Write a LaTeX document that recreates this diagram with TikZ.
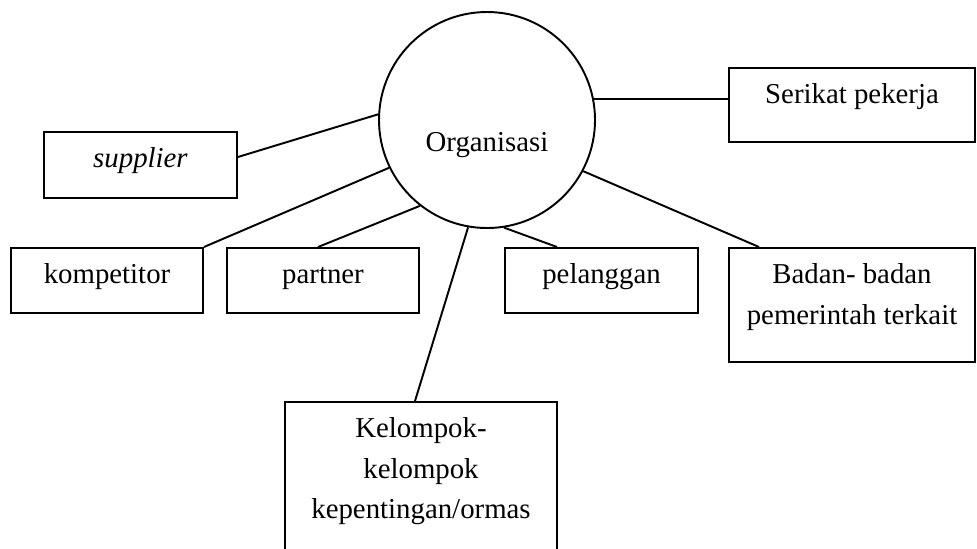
\documentclass[tikz,border=0pt]{standalone}
\usepackage{fontspec}
\setmainfont{Liberation Serif}
% first baseline sits this far below the top of a box
\newcommand{\lead}{\rule{0pt}{0.36cm}}
\tikzset{
  box/.style={draw, anchor=north, inner sep=0pt, align=center},
  hub/.style={draw, circle, minimum size=2.16cm, inner sep=0pt}
}
\begin{document}
\begin{tikzpicture}[line width=0.55pt, font=\fontsize{8.2}{11.4}\selectfont]
  \clip (0,0) rectangle (9.77,-5.48);
  % centre
  \node[hub, label={[anchor=base,yshift=-0.25cm]center:Organisasi}] (org) at (4.87,-1.20) {};
  % stakeholders
  \node[box, minimum width=1.93cm, text depth=0.30cm] (supplier) at (1.405,-1.31) {\lead\textit{supplier}};
  \node[box, minimum width=2.46cm, text depth=0.38cm] (serikat) at (8.52,-0.67) {\lead Serikat pekerja};
  \node[box, minimum width=1.92cm, text depth=0.29cm] (kompetitor) at (1.07,-2.47) {\lead kompetitor};
  \node[box, minimum width=1.92cm, text depth=0.29cm] (partner) at (3.23,-2.47) {\lead partner};
  \node[box, minimum width=1.93cm, text depth=0.29cm] (pelanggan) at (6.015,-2.47) {\lead pelanggan};
  \node[box, minimum width=2.46cm, text depth=0.38cm] (badan) at (8.52,-2.47) {\lead Badan- badan\\pemerintah terkait};
  \node[box, minimum width=2.72cm, text depth=0.50cm] (kelompok) at (4.21,-4.01) {\lead Kelompok-\\kelompok\\kepentingan/ormas};
  % links
  \draw ([yshift=0.08cm]supplier.east) -- (org.177);
  \draw (org.11) -- (org.11 -| serikat.west);
  \draw (kompetitor.north east) -- (org.206);
  \draw ([xshift=-0.05cm]partner.north) -- (org.232);
  \draw ([xshift=-0.06cm]kelompok.north) -- (org.260);
  \draw ([xshift=0.53cm]pelanggan.north west) -- (org.279);
  \draw ([xshift=0.31cm]badan.north west) -- (org.332);
\end{tikzpicture}
\end{document}
